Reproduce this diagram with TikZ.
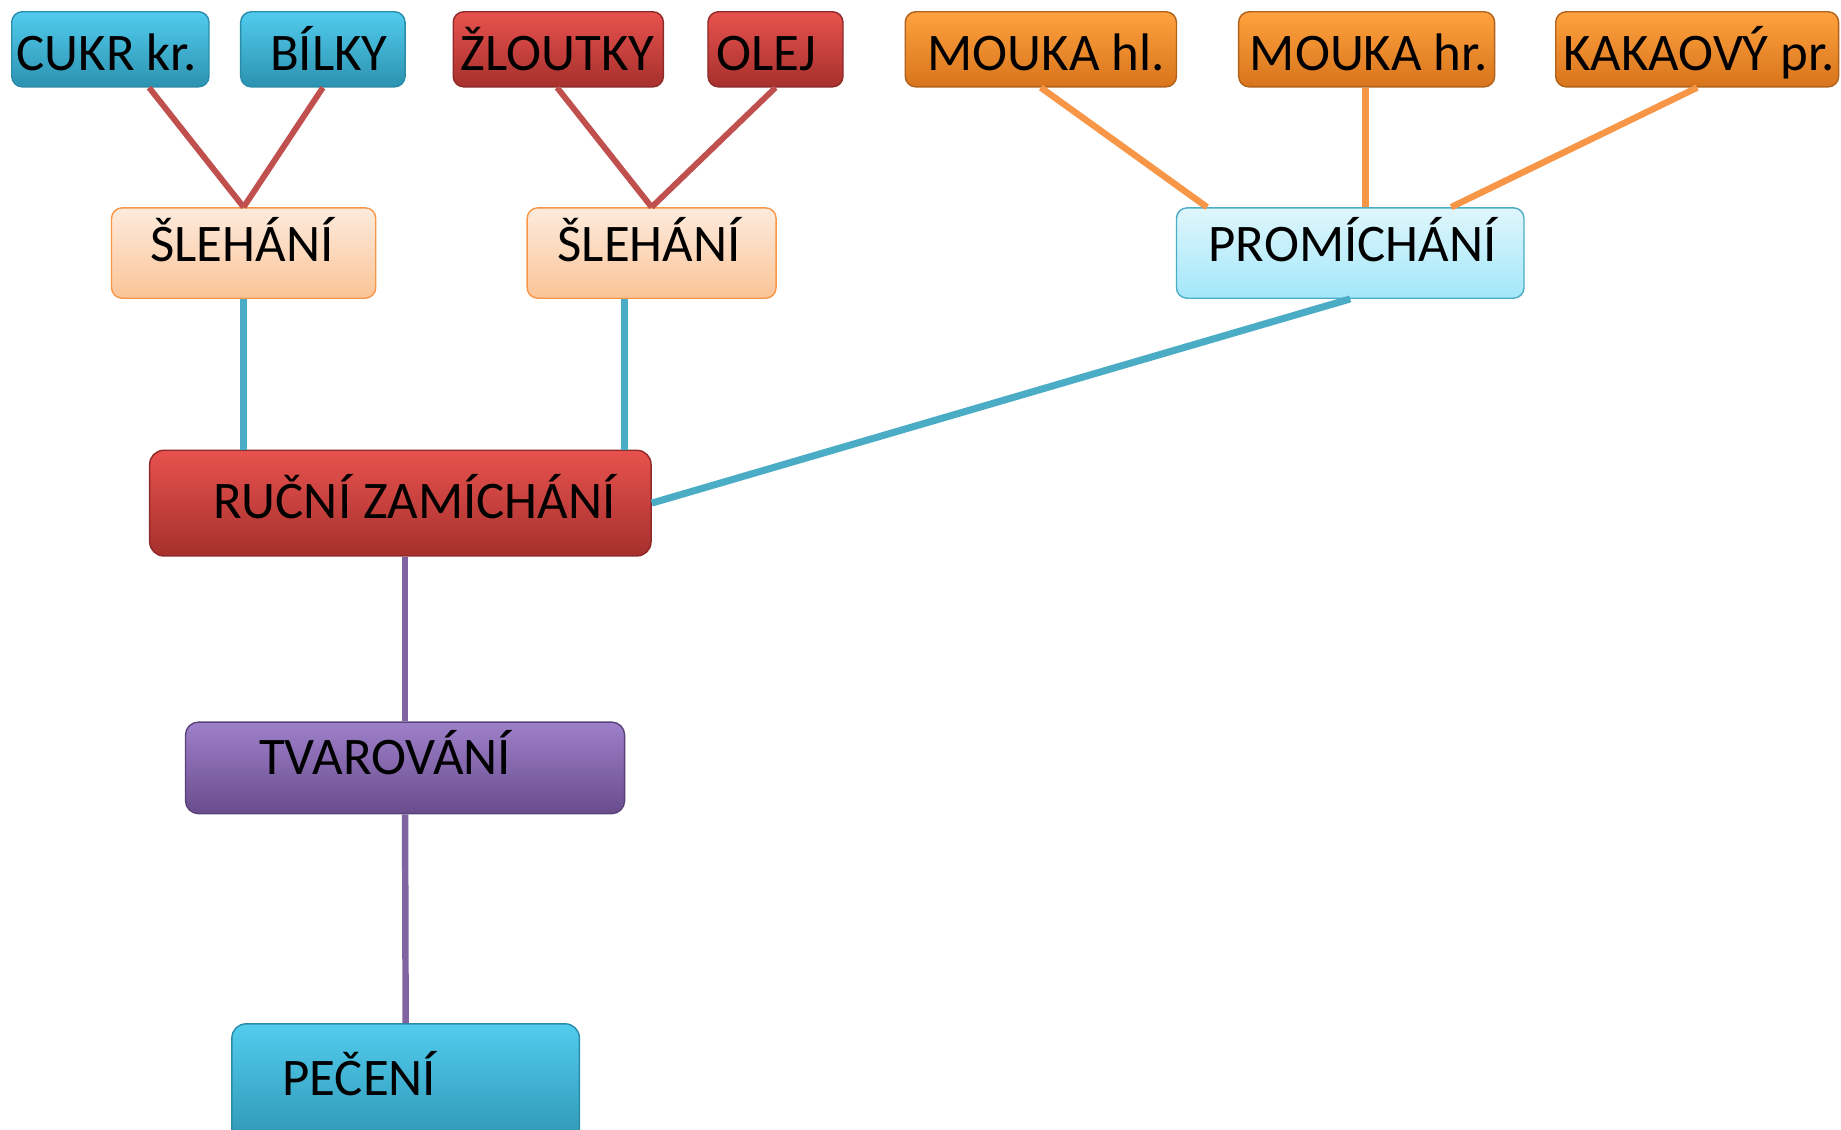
\documentclass[tikz,border=0pt]{standalone}
\usepackage{fontspec}
\setmainfont{Carlito}
\usetikzlibrary{calc}
\definecolor{lred}{HTML}{C0504D}
\definecolor{lorange}{HTML}{F79646}
\definecolor{lblue}{HTML}{4BACC6}
\definecolor{lpurple}{HTML}{8064A2}
\tikzset{
  box/.style={rectangle, rounded corners=9pt, inner sep=0pt, line width=1.2pt},
  bluebox/.style={box, draw=HTML2A8CA8, top color=HTML52CCEE, middle color=HTML36B4D8, bottom color=HTML2C92B0},
  redbox/.style={box, draw=HTML8E2A28, top color=HTMLE8524E, middle color=HTMLCF413E, bottom color=HTMLA6302D},
  orangebox/.style={box, draw=HTMLB0621C, top color=HTMLFFA23E, middle color=HTMLF68B24, bottom color=HTMLD8741C},
  purplebox/.style={box, draw=HTML5A4279, top color=HTML9E80CA, middle color=HTML8062A9, bottom color=HTML684C8C},
  peachbox/.style={box, draw=lorange, top color=HTMLFDEBDD, bottom color=HTMLFBC497},
  cyanbox/.style={box, draw=lblue, top color=HTMLDFF6FC, bottom color=HTMLA3E7F9},
  lbl/.style={anchor=base, inner sep=0pt, font=\fontsize{45}{54}\selectfont, text=black},
  redline/.style={draw=lred, line width=5pt},
  orangeline/.style={draw=lorange, line width=5.5pt},
  blueline/.style={draw=lblue, line width=6pt},
  purpleline/.style={draw=lpurple, line width=5.5pt},
}
\colorlet{HTML2A8CA8}{black}
\begin{document}
\begin{tikzpicture}[x=1pt,y=-1pt]
\definecolor{HTML2A8CA8}{HTML}{2A8CA8}
\definecolor{HTML52CCEE}{HTML}{52CCEE}
\definecolor{HTML36B4D8}{HTML}{36B4D8}
\definecolor{HTML2C92B0}{HTML}{2C92B0}
\definecolor{HTML8E2A28}{HTML}{8E2A28}
\definecolor{HTMLE8524E}{HTML}{E8524E}
\definecolor{HTMLCF413E}{HTML}{CF413E}
\definecolor{HTMLA6302D}{HTML}{A6302D}
\definecolor{HTMLB0621C}{HTML}{B0621C}
\definecolor{HTMLFFA23E}{HTML}{FFA23E}
\definecolor{HTMLF68B24}{HTML}{F68B24}
\definecolor{HTMLD8741C}{HTML}{D8741C}
\definecolor{HTML5A4279}{HTML}{5A4279}
\definecolor{HTML9E80CA}{HTML}{9E80CA}
\definecolor{HTML8062A9}{HTML}{8062A9}
\definecolor{HTML684C8C}{HTML}{684C8C}
\definecolor{HTMLFDEBDD}{HTML}{FDEBDD}
\definecolor{HTMLFBC497}{HTML}{FBC497}
\definecolor{HTMLDFF6FC}{HTML}{DFF6FC}
\definecolor{HTMLA3E7F9}{HTML}{A3E7F9}
\useasboundingbox (0,0) rectangle (1568,962);
% top row
\node[bluebox, minimum width=168pt, minimum height=64pt] (cukr) at (94,42) {};
\node[bluebox, minimum width=140pt, minimum height=64pt] (bilky) at (275,42) {};
\node[redbox, minimum width=179pt, minimum height=64pt] (zlout) at (475.5,42) {};
\node[redbox, minimum width=115pt, minimum height=64pt] (olej) at (660.5,42) {};
\node[orangebox, minimum width=231pt, minimum height=64pt] (mhl) at (886.5,42) {};
\node[orangebox, minimum width=218pt, minimum height=64pt] (mhr) at (1164,42) {};
\node[orangebox, minimum width=241pt, minimum height=64pt] (kak) at (1445.5,42) {};
% second row
\node[peachbox, minimum width=225pt, minimum height=77pt] (sl1) at (207.5,215.5) {};
\node[peachbox, minimum width=212pt, minimum height=77pt] (sl2) at (555,215.5) {};
\node[cyanbox, minimum width=296pt, minimum height=77pt] (prom) at (1150,215.5) {};
% lower
\node[redbox, rounded corners=12pt, minimum width=427pt, minimum height=90pt] (ruc) at (341,428.5) {};
\node[purplebox, rounded corners=11pt, minimum width=374pt, minimum height=78pt] (tvar) at (345,654) {};
\node[bluebox, rounded corners=12pt, minimum width=296pt, minimum height=110pt] (pec) at (345.5,927) {};
% connectors
\draw[redline] ([xshift=33pt]cukr.south) -- (sl1.north);
\draw[redline] (bilky.south) -- (sl1.north);
\draw[redline] ([xshift=-1pt]zlout.south) -- (sl2.north);
\draw[redline] (olej.south) -- (sl2.north);
\draw[orangeline] (mhl.south) -- ([xshift=-122pt]prom.north);
\draw[orangeline] ([xshift=-1pt]mhr.south) -- ([xshift=13pt]prom.north);
\draw[orangeline] (kak.south) -- ([xshift=86pt]prom.north);
\draw[blueline] (sl1.south) -- ([xshift=-133.5pt]ruc.north);
\draw[blueline] ([xshift=-23pt]sl2.south) -- ([xshift=191pt]ruc.north);
\draw[blueline] (prom.south) -- (ruc.east);
\draw[purpleline] ([xshift=4pt]ruc.south) -- (tvar.north);
\draw[purpleline] (tvar.south) -- (pec.north);
% labels
\node[lbl] (tcukr) at (91,60) {CUKR kr.};
\node[lbl] (tbilky) at (280,60) {BÍLKY};
\node[lbl] (tzlout) at (475,60) {ŽLOUTKY};
\node[lbl] (tolej) at (653,60) {OLEJ};
\node[lbl] (tmhl) at (891,60) {MOUKA hl.};
\node[lbl] (tmhr) at (1166,60) {MOUKA hr.};
\node[lbl] (tkak) at (1447,60) {KAKAOVÝ pr.};
\node[lbl] (tsl1) at (206,223) {ŠLEHÁNÍ};
\node[lbl] (tsl2) at (553,223) {ŠLEHÁNÍ};
\node[lbl] (tprom) at (1152,223) {PROMÍCHÁNÍ};
\node[lbl] (truc) at (353,442) {RUČNÍ ZAMÍCHÁNÍ};
\node[lbl] (ttvar) at (328,660) {TVAROVÁNÍ};
\node[lbl] (tpec) at (306,933) {PEČENÍ};
\end{tikzpicture}
\end{document}
